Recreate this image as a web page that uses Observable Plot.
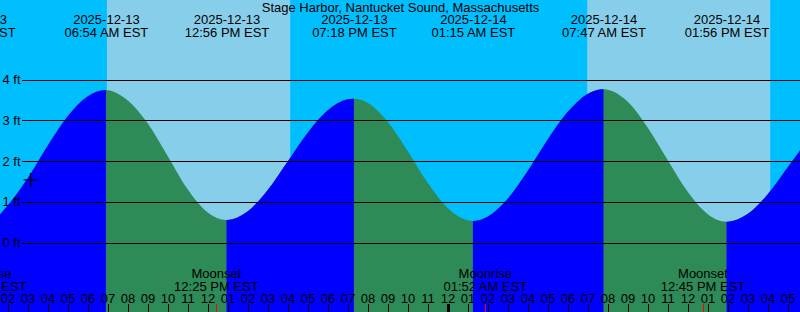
<!DOCTYPE html>
<html><head><meta charset="utf-8">
<script src="https://cdn.jsdelivr.net/npm/d3@7"></script>
<script src="https://cdn.jsdelivr.net/npm/@observablehq/plot@0.6"></script>
<style>html,body{margin:0;padding:0;background:#fff;} svg{display:block}</style>
</head><body><div id="chart"></div>
<script>
const title = "Stage Harbor, Nantucket Sound, Massachusetts";

// time in hours since 2025-12-13 00:00 EST
const tideT = [1.625, 2, 3, 4, 5, 6, 6.9, 7, 8, 9, 10, 11, 12, 12.933, 13, 14, 15, 16, 17, 18, 19, 19.3,
  20, 21, 22, 23, 24, 25, 25.25, 26, 27, 28, 29, 30, 31, 31.783, 32, 33, 34, 35, 36, 37, 37.933, 38, 39, 40, 41, 41.625];
const tideH = [0.69, 0.90, 1.57, 2.37, 3.09, 3.58, 3.74, 3.738, 3.49, 2.93, 2.13, 1.31, 0.74, 0.55, 0.551, 0.76, 1.28, 1.98, 2.69, 3.24, 3.514, 3.53,
  3.43, 2.97, 2.25, 1.47, 0.85, 0.545, 0.53, 0.634, 1.07, 1.75, 2.52, 3.20, 3.647, 3.76, 3.75, 3.46, 2.83, 2.03, 1.25, 0.70, 0.51, 0.511, 0.70, 1.18, 1.84, 2.26];

const extremeT = [0.283, 6.92, 12.95, 19.32, 25.27, 31.8, 37.95];
const extremeType = ["Low", "High", "Low", "High", "Low", "High", "Low"];
const extremeDate = ["2025-12-13", "2025-12-13", "2025-12-13", "2025-12-13", "2025-12-14", "2025-12-14", "2025-12-14"];
const extremeTime = ["12:17 AM EST", "06:54 AM EST", "12:56 PM EST", "07:18 PM EST", "01:15 AM EST", "07:47 AM EST", "01:56 PM EST"];

const sunriseT = [6.97, 30.985];
const sunsetT = [16.135, 40.135];

const moonT = [0.833, 12.417, 25.867, 36.75];
const moonEvent = ["Moonrise", "Moonset", "Moonrise", "Moonset"];
const moonTime = ["12:50 AM EST", "12:25 PM EST", "01:52 AM EST", "12:45 PM EST"];

const depthTicks = [0, 1, 2, 3, 4];
const depthLabels = ["0 ft", "1 ft", "2 ft", "3 ft", "4 ft"];

const hourTicks = [2,3,4,5,6,7,8,9,10,11,12,13,14,15,16,17,18,19,20,21,22,23,24,25,26,27,28,29,30,31,32,33,34,35,36,37,38,39,40,41];
const hourLabels = ["02","03","04","05","06","07","08","09","10","11","12","01","02","03","04","05","06","07","08","09","10","11","12","01","02","03","04","05","06","07","08","09","10","11","12","01","02","03","04","05"];
const midnightT = [24];

const nowT = [3.125];
const nowH = [1.55];

// ---- build tables ----
const W = 800, H = 312;
const xDomain = [1.625, 41.625];
const yDomain = [-(H - 242.5) / 40.75, 242.5 / 40.75];
const tide = tideT.map((t, i) => ({t, h: tideH[i]}));
const extremes = extremeT.map((t, i) => ({t, type: extremeType[i], date: extremeDate[i], time: extremeTime[i]}));
const days = sunriseT.map((r, i) => ({rise: r, set: sunsetT[i]}));
const moons = moonT.map((t, i) => ({t, ev: moonEvent[i], time: moonTime[i]}));
const rising = [];
extremes.forEach((e, i) => {
  if (e.type === "Low") rising.push([e.t, i + 1 < extremes.length ? extremes[i + 1].t : xDomain[1] + 5]);
});

function clipTo(intervals, id) {
  return function(index, scales, values, dimensions, context, next) {
    const g = next(index, scales, values, dimensions, context);
    const ns = "http://www.w3.org/2000/svg";
    const wrap = document.createElementNS(ns, "g");
    const cp = document.createElementNS(ns, "clipPath");
    cp.setAttribute("id", id);
    for (const [a, b] of intervals) {
      const r = document.createElementNS(ns, "rect");
      const x1 = scales.x(a), x2 = scales.x(b);
      r.setAttribute("x", x1);
      r.setAttribute("width", Math.max(0, x2 - x1));
      r.setAttribute("y", 0);
      r.setAttribute("height", dimensions.height);
      cp.appendChild(r);
    }
    wrap.appendChild(cp);
    g.setAttribute("clip-path", `url(#${id})`);
    wrap.appendChild(g);
    return wrap;
  };
}

const font = "Liberation Sans";
const fs = 13;
const txt = {fontSize: fs, lineAnchor: "middle"};

const chart = Plot.plot({
  width: W, height: H,
  margin: 0,
  style: {background: "#00BFFF", fontFamily: font, fontSize: fs + "px", color: "black"},
  x: {domain: xDomain, range: [0, W], axis: null},
  y: {domain: yDomain, range: [H, 0], axis: null},
  marks: [
    Plot.rect(days, {x1: "rise", x2: "set", fill: "#87CEEB"}),
    Plot.areaY(tide, {x: "t", y1: yDomain[0], y2: "h", curve: "monotone-x", fill: "#2E8B57", clip: true}),
    Plot.areaY(tide, {x: "t", y1: yDomain[0], y2: "h", curve: "monotone-x", fill: "#0000FF", render: clipTo(rising, "risingClip")}),
    Plot.ruleY(depthTicks, {y: d => d, insetLeft: 22, stroke: "black", strokeWidth: 1, shapeRendering: "crispEdges"}),
    Plot.text(depthTicks, {y: d => d, text: (d, i) => depthLabels[i], frameAnchor: "left", textAnchor: "start", dx: 2, ...txt}),
    Plot.dot(nowT, {x: d => d, y: (d, i) => nowH[i], symbol: "plus", r: 4.5, stroke: "black", strokeWidth: 1.3}),
    Plot.text([title], {text: d => d, frameAnchor: "top", dy: 7.5, ...txt}),
    Plot.text(extremes, {x: "t", text: "date", frameAnchor: "top", dy: 19.5, ...txt}),
    Plot.text(extremes, {x: "t", text: "time", frameAnchor: "top", dy: 32, ...txt}),
    Plot.text(moons, {x: "t", text: "ev", frameAnchor: "bottom", dy: -38.5, ...txt}),
    Plot.text(moons, {x: "t", text: "time", frameAnchor: "bottom", dy: -26, ...txt}),
    Plot.text(hourTicks, {x: d => d, text: (d, i) => hourLabels[i], frameAnchor: "bottom", dy: -14, ...txt}),
    Plot.ruleX(hourTicks, {x: d => d, insetTop: 304, stroke: "black", strokeWidth: 1, shapeRendering: "crispEdges"}),
    Plot.ruleX(midnightT, {x: d => d, insetTop: 304, stroke: "black", strokeWidth: 3, shapeRendering: "crispEdges"}),
    Plot.ruleX(moons, {x: "t", insetTop: 304, stroke: "red", strokeWidth: 1, shapeRendering: "crispEdges"})
  ]
});
document.getElementById("chart").appendChild(chart);
</script>
</body></html>
